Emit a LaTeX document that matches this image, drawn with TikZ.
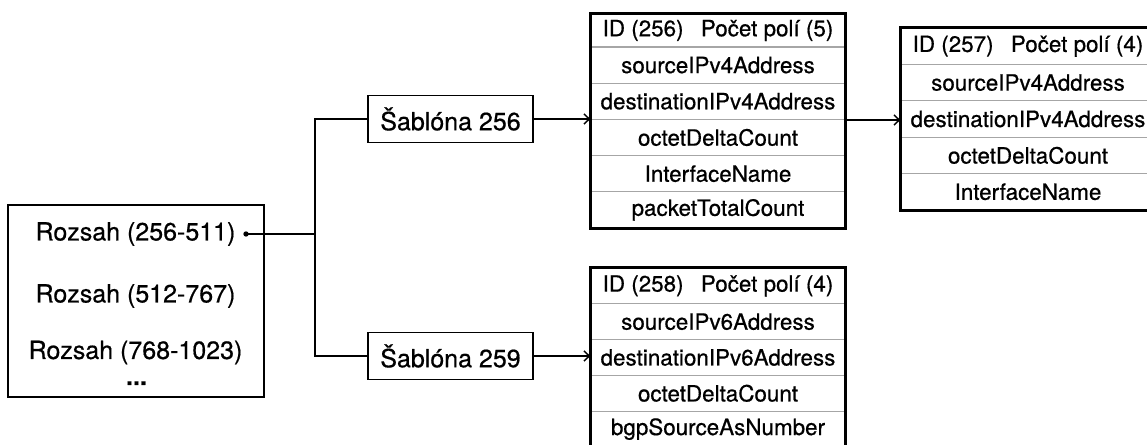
\documentclass[tikz,border=0pt]{standalone}
\usepackage{fontspec}
\setmainfont{TeX Gyre Heros}[FakeBold=0.6]
\usetikzlibrary{arrows.meta}
\begin{document}
\begin{tikzpicture}[x=0.75pt,y=-0.75pt,
  big/.style={font=\fontsize{18.75pt}{20pt}\selectfont},
  cell/.style={draw=gray!70, line width=0.9pt, minimum width=190.5pt, inner sep=0pt, font=\fontsize{16.8pt}{18pt}\selectfont},
  tblborder/.style={line width=1.8pt},
  conn/.style={line width=1.1pt},
  arr/.style={conn, -{Straight Barb[length=4pt,width=7.5pt]}},
  tbox/.style={draw, line width=1pt, minimum width=123.75pt, minimum height=35.25pt, inner sep=0pt, big}
]
\useasboundingbox (0,0) rectangle (1147,445);
\clip (0,0) rectangle (1147,445);

% left range box
\node[draw, line width=1pt, minimum width=192pt, minimum height=144pt] (rng) at (136,301) {};
\node[big] (r1) at (135.5,234) {Rozsah (256-511)};
\node[big] (r2) at (135.5,296) {Rozsah (512-767)};
\node[big] (r3) at (135.5,352.5) {Rozsah (768-1023)};
\node[big, font=\fontsize{18.75pt}{20pt}\selectfont\bfseries, anchor=base] (r4) at (136.5,385) {...};
\node[circle, fill, inner sep=0pt, minimum size=4pt] (dot) at (246,234) {};
\coordinate (j) at (315,234);

% template boxes
\node[tbox] (s256) at (450.5,119) {Šablóna 256};
\node[tbox] (s259) at (450.5,356) {Šablóna 259};

% table 256
\begin{scope}[cell/.append style={minimum height=27.15pt}]
\node[cell, minimum height=24.75pt] (t256h) at (718,30.5) {ID (256)\hspace{13pt}Počet polí (5)};
\node[cell] (t256r1) at (718,65.1) {sourceIPv4Address};
\node[cell] (t256r2) at (718,101.3) {destinationIPv4Address};
\node[cell] (t256r3) at (718,137.5) {octetDeltaCount};
\node[cell] (t256r4) at (718,173.7) {InterfaceName};
\node[cell] (t256r5) at (718,209.9) {packetTotalCount};
\end{scope}
\draw[tblborder] (t256h.north west) rectangle (t256r5.south east);

% table 257
\begin{scope}[cell/.append style={minimum height=27.3pt}]
\node[cell] (t257h) at (1028,46.2) {ID (257)\hspace{13pt}Počet polí (4)};
\node[cell] (t257r1) at (1028,82.6) {sourceIPv4Address};
\node[cell] (t257r2) at (1028,119) {destinationIPv4Address};
\node[cell] (t257r3) at (1028,155.4) {octetDeltaCount};
\node[cell] (t257r4) at (1028,191.8) {InterfaceName};
\end{scope}
\draw[tblborder] (t257h.north west) rectangle (t257r4.south east);

% table 258
\begin{scope}[cell/.append style={minimum height=26.85pt}]
\node[cell] (t258h) at (718,285.9) {ID (258)\hspace{13pt}Počet polí (4)};
\node[cell] (t258r1) at (718,321.7) {sourceIPv6Address};
\node[cell] (t258r2) at (718,357.5) {destinationIPv6Address};
\node[cell] (t258r3) at (718,393.3) {octetDeltaCount};
\node[cell] (t258r4) at (718,429.1) {bgpSourceAsNumber};
\end{scope}
\draw[tblborder] (t258h.north west) rectangle (t258r4.south east);

% connectors
\draw[conn] (dot.center) -- (j);
\draw[conn] (s256.west) -| (j) |- (s259.west);
\draw[arr] (s256.east) -- (s256.east -| t256r2.west);
\draw[arr] (s259.east) -- (s259.east -| t258r2.west);
\draw[arr] (t256r2.south east) -- (t256r2.south east -| t257r2.west);
\end{tikzpicture}
\end{document}
